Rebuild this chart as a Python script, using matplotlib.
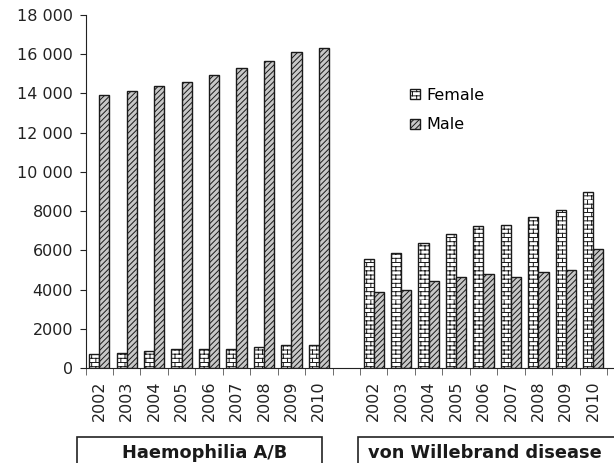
import warnings
import numpy as np
import matplotlib
matplotlib.use("Agg")
import matplotlib.pyplot as plt
import matplotlib.hatch as mhatch
from matplotlib.path import Path
from matplotlib.patches import Rectangle
from matplotlib.ticker import FuncFormatter

warnings.filterwarnings("ignore")

# données
years = ["2002", "2003", "2004", "2005", "2006", "2007", "2008", "2009", "2010"]
haemo_female = [700, 760, 850, 970, 970, 970, 1050, 1150, 1170]
haemo_male = [13900, 14100, 14400, 14600, 14950, 15300, 15650, 16100, 16300]
vwd_female = [5550, 5850, 6350, 6850, 7250, 7300, 7700, 8050, 8950]
vwd_male = [3900, 4000, 4450, 4650, 4800, 4650, 4900, 5000, 6050]
groups = ["Haemophilia A/B", "von Willebrand disease"]


# motif "briques" (n'existe pas dans matplotlib)
class BrickHatch(mhatch.HatchPatternBase):
    def __init__(self, hatch, density):
        self.rows = 2 * int(hatch.count('b') * density / 2)
        self.cols = self.rows // 2
        self.num_vertices = self.rows * (2 + 2 * self.cols)

    def set_vertices_and_codes(self, vertices, codes):
        k = 0
        for i in range(self.rows):
            y0, y1 = i / self.rows, (i + 1) / self.rows
            vertices[k] = (0, y0)
            vertices[k + 1] = (1, y0)
            codes[k], codes[k + 1] = Path.MOVETO, Path.LINETO
            k += 2
            for j in range(self.cols):
                x = (j + 0.5 * (i % 2)) / self.cols
                vertices[k] = (x, y0)
                vertices[k + 1] = (x, y1)
                codes[k], codes[k + 1] = Path.MOVETO, Path.LINETO
                k += 2


mhatch._hatch_types.append(BrickHatch)

plt.rcParams['font.family'] = 'DejaVu Sans'
plt.rcParams['hatch.linewidth'] = 0.7

fig = plt.figure(figsize=(6.14, 4.63), dpi=100)
ax = fig.add_axes([85.5 / 614, 1 - 368 / 463, (612.5 - 85.5) / 614, (368 - 15) / 463])

x1 = np.arange(len(years))
x2 = np.arange(len(years)) + len(years) + 1
w = 0.37
edge = '#1a1a1a'

ax.bar(x1 - w / 2, haemo_female, w, color='white', edgecolor=edge, hatch='bbbb', lw=1.0, label='Female')
ax.bar(x1 + w / 2, haemo_male, w, color='#c8c8c8', edgecolor=edge, hatch='//////', lw=1.0, label='Male')
ax.bar(x2 - w / 2, vwd_female, w, color='white', edgecolor=edge, hatch='bbbb', lw=1.0)
ax.bar(x2 + w / 2, vwd_male, w, color='#c8c8c8', edgecolor=edge, hatch='//////', lw=1.0)

ax.set_xlim(-0.5, 2 * len(years) + 0.7)
ax.set_ylim(0, 18000)
ax.set_yticks(np.arange(0, 18001, 2000))
ax.yaxis.set_major_formatter(FuncFormatter(
    lambda v, p: f"{int(v):,}".replace(",", " ") if v >= 10000 else f"{int(v)}"))

ax.set_xticks(np.concatenate([x1, x2]))
ax.set_xticklabels(years + years, rotation=90)
ax.set_xticks(np.arange(-0.5, 2 * len(years) + 1, 1), minor=True)
ax.tick_params(axis='x', which='major', length=0, pad=9, labelsize=11.5, colors='#222222')
ax.tick_params(axis='x', which='minor', length=5, color='#555555', direction='out')
ax.tick_params(axis='y', length=4, pad=5, labelsize=11.5, colors='#222222')

for s in ['top', 'right']:
    ax.spines[s].set_visible(False)
ax.spines['left'].set_color('#222222')
ax.spines['bottom'].set_color('#222222')

ax.legend(loc='upper left', bbox_to_anchor=(410 / 614, 1 - 88 / 463), bbox_transform=fig.transFigure,
          frameon=False, fontsize=11.5, handlelength=0.6, handleheight=0.6,
          handletextpad=0.4, labelspacing=0.9, borderpad=0, borderaxespad=0)

# cadres des groupes
boxes = [(77, 322), (358, 640)]
text_x = [205, 484.5]
for (a, b), tx, g in zip(boxes, text_x, groups):
    fig.patches.append(Rectangle((a / 614, -0.05), (b - a) / 614, 0.05 + 1 - 437 / 463,
                                 transform=fig.transFigure, fill=False, ec='#222222', lw=1.2))
    fig.text(tx / 614, 1 - 453 / 463, g, ha='center', va='center', fontsize=12.8,
             fontweight='bold', color='#1a1a1a')

fig.savefig("out.png", dpi=100)
